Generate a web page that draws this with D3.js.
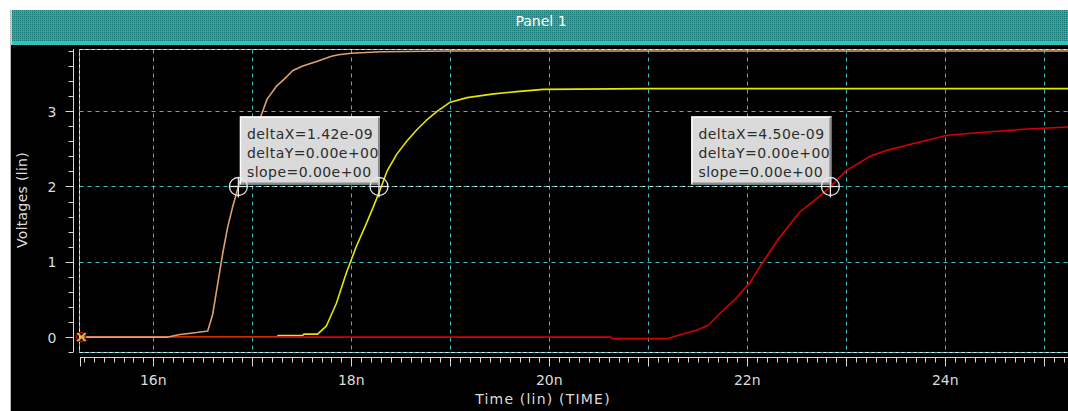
<!DOCTYPE html>
<html><head><meta charset="utf-8">
<script src="https://cdn.jsdelivr.net/npm/d3@7"></script>
<style>
html,body{margin:0;padding:0;background:#fff;overflow:hidden}
svg{display:block}
text{font-family:"DejaVu Sans",sans-serif}
</style></head>
<body>
<svg id="c" width="1068" height="411"></svg>
<script>
// ---- data (time in ns, voltage in V) ----
const orangeTime = [15.26,16.15,16.27,16.44,16.55,16.6,16.65,16.7,16.75,16.8,16.86,16.95,17.03,17.1,17.15,17.25,17.31,17.41,17.51,17.65,17.8,17.87,18.0,18.3,19.0,25.24];
const orangeVolt = [0,0,0.035,0.06,0.08,0.3,0.7,1.1,1.45,1.72,2.0,2.4,2.72,2.98,3.16,3.34,3.41,3.54,3.6,3.66,3.73,3.75,3.77,3.79,3.8,3.8];
const yellowTime = [15.26,17.25,17.26,17.51,17.52,17.66,17.75,17.85,17.95,18.05,18.15,18.22,18.29,18.36,18.46,18.56,18.66,18.76,18.87,19.0,19.17,19.44,19.67,19.94,21.0,25.24];
const yellowVolt = [0,0,0.02,0.02,0.04,0.04,0.15,0.45,0.85,1.2,1.5,1.72,1.95,2.2,2.43,2.6,2.75,2.88,3.0,3.12,3.18,3.23,3.26,3.29,3.3,3.3];
const redTime = [15.26,20.62,20.63,21.2,21.32,21.49,21.61,21.72,21.87,22.03,22.16,22.33,22.53,22.73,22.84,23.0,23.24,23.41,23.68,24.02,24.39,24.79,25.24];
const redVolt = [0,0,-0.02,-0.02,0.03,0.09,0.16,0.31,0.49,0.73,1.0,1.33,1.66,1.87,2.0,2.21,2.40,2.48,2.57,2.68,2.72,2.76,2.79];
const cursorTime = [16.86, 18.28, 22.84];
const cursorLevel = 2.0;
const noteLines1 = ["deltaX=1.42e-09","deltaY=0.00e+00","slope=0.00e+00"];
const noteLines2 = ["deltaX=4.50e-09","deltaY=0.00e+00","slope=0.00e+00"];
const xTickValues = [16,18,20,22,24];
const yTickValues = [0,1,2,3];
const panelTitle = "Panel 1";
const xTitle = "Time (lin) (TIME)";
const yTitle = "Voltages (lin)";

const svg = d3.select("#c");
const W = 1068, H = 411;
const L = 79.5, T = 49.5, B = 352.5;

const x = d3.scaleLinear().domain([15.26, 25.24]).range([80, 1068]);
const y = d3.scaleLinear().domain([-0.198, 3.826]).range([352, 49]);

const defs = svg.append("defs");
const pat = defs.append("pattern").attr("id","hdr").attr("width",2).attr("height",2).attr("patternUnits","userSpaceOnUse");
pat.append("rect").attr("width",2).attr("height",2).attr("fill","#25aaa5");
pat.append("rect").attr("x",0).attr("y",0).attr("width",1).attr("height",1).attr("fill","#147672");
defs.append("clipPath").attr("id","plotclip").append("rect").attr("x",79).attr("y",48).attr("width",1000).attr("height",306);

// black window area
svg.append("rect").attr("x",10).attr("y",10).attr("width",W-10).attr("height",H-10).attr("fill","#000");
svg.append("line").attr("x1",10.5).attr("x2",10.5).attr("y1",10).attr("y2",H).attr("stroke","#b8b8b8");
// header
svg.append("rect").attr("x",11).attr("y",10).attr("width",W-11).attr("height",31).attr("fill","url(#hdr)");
svg.append("rect").attr("x",11).attr("y",41).attr("width",W-11).attr("height",4).attr("fill","#33c2be");
svg.append("line").attr("x1",11).attr("x2",W).attr("y1",10.5).attr("y2",10.5).attr("stroke","#8a9a9a").attr("stroke-dasharray","1,1");
svg.append("line").attr("x1",11.5).attr("x2",11.5).attr("y1",10).attr("y2",45).attr("stroke","#d0d0d0");
svg.append("text").attr("x",541).attr("y",26).attr("text-anchor","middle").attr("fill","#ffffff").attr("font-size",14).text(panelTitle);

const grid = "#3fbfbf";
// vertical grid
const gridX = d3.range(16, 26);
svg.append("g").selectAll("line").data(gridX).join("line")
  .attr("x1",d=>Math.round(x(d))+0.5).attr("x2",d=>Math.round(x(d))+0.5)
  .attr("y1",T).attr("y2",B).attr("stroke",grid).attr("stroke-dasharray","4,4");
// horizontal grid
svg.append("g").selectAll("line").data([1,2,3]).join("line")
  .attr("x1",L).attr("x2",W).attr("y1",d=>Math.round(y(d))+0.5).attr("y2",d=>Math.round(y(d))+0.5)
  .attr("stroke",grid).attr("stroke-dasharray","4,4");
// frame
svg.append("rect").attr("x",L).attr("y",T).attr("width",W).attr("height",B-T).attr("fill","none").attr("stroke",grid);
svg.append("rect").attr("x",L).attr("y",T).attr("width",W).attr("height",B-T).attr("fill","none").attr("stroke","#e8e8e8").attr("stroke-dasharray","3,3");

// axes
const yMinor = d3.range(-0.2, 3.81, 0.2).map(v=>+v.toFixed(1));
const ya = svg.append("g").attr("transform","translate(73.5,0)");
ya.append("line").attr("x1",0).attr("x2",0).attr("y1",49).attr("y2",352).attr("stroke","#d8d8d8");
ya.selectAll(".mn").data(yMinor).join("line").attr("class","mn")
  .attr("x1",0).attr("x2",d=>yTickValues.includes(d)?-8:-5)
  .attr("y1",d=>Math.round(y(d))+0.5).attr("y2",d=>Math.round(y(d))+0.5).attr("stroke","#d8d8d8");
ya.selectAll("text").data(yTickValues).join("text")
  .attr("x",-17).attr("y",d=>y(d)+5.5).attr("text-anchor","end").attr("fill","#dcdcdc").attr("font-size",14)
  .text(d=>d);

const xMinor = d3.range(153, 253).map(v=>v/10);
const xa = svg.append("g").attr("transform","translate(0,357.5)");
xa.append("line").attr("x1",80).attr("x2",W).attr("y1",0).attr("y2",0).attr("stroke","#d8d8d8");
xa.selectAll(".mn").data(xMinor).join("line").attr("class","mn")
  .attr("x1",d=>Math.round(x(d))+0.5).attr("x2",d=>Math.round(x(d))+0.5)
  .attr("y1",0).attr("y2",d=>(Math.abs(d-Math.round(d))<1e-6)?9:5).attr("stroke","#d8d8d8");
xa.append("line").attr("x1",80.5).attr("x2",80.5).attr("y1",0).attr("y2",9).attr("stroke","#d8d8d8");
xa.selectAll("text").data(xTickValues).join("text")
  .attr("x",d=>x(d)).attr("y",27.5).attr("text-anchor","middle").attr("fill","#dcdcdc").attr("font-size",14)
  .text(d=>d+"n");

svg.append("text").attr("x",543).attr("y",404).attr("text-anchor","middle").attr("fill","#dcdcdc")
  .attr("font-size",14).attr("letter-spacing","1.2px").text(xTitle);
svg.append("text").attr("transform","translate(27,200) rotate(-90)").attr("text-anchor","middle").attr("fill","#dcdcdc")
  .attr("font-size",14).attr("letter-spacing","0.3px").text(yTitle);

// curves
const line = d3.line().x(d=>x(d[0])).y(d=>y(d[1]));
const plot = svg.append("g").attr("clip-path","url(#plotclip)");
const series = [
  {t:yellowTime, v:yellowVolt, c:"#e6e600"},
  {t:redTime, v:redVolt, c:"#d40000"},
  {t:orangeTime, v:orangeVolt, c:"#e0a06a"}
];
series.forEach(s=>{
  plot.append("path").attr("d", line(s.t.map((t,i)=>[t,s.v[i]]))).attr("fill","none")
    .attr("stroke",s.c).attr("stroke-width",1.6).attr("stroke-linejoin","round");
});

// delta line (white dotted on the 2V grid)
const yc = Math.round(y(cursorLevel))+0.5;
svg.append("line").attr("x1",x(cursorTime[0])).attr("x2",x(cursorTime[2])).attr("y1",yc).attr("y2",yc)
  .attr("stroke","#f0f0f0").attr("stroke-dasharray","3,5").attr("stroke-dashoffset",4);

// origin marks
const ox = x(15.26)+1, oy = y(0);
svg.append("circle").attr("cx",ox).attr("cy",oy).attr("r",4.5).attr("fill","none").attr("stroke","#d00000").attr("stroke-width",1.5);
[["#e6e600",0],["#e0a06a",1]].forEach(([c,o])=>{
  svg.append("path").attr("d",`M${ox-4+o},${oy-4}L${ox+4+o},${oy+4}M${ox+4+o},${oy-4}L${ox-4+o},${oy+4}`)
    .attr("stroke",c).attr("stroke-width",1.3);
});

// annotation boxes
function note(rightX, bottomY, lines){
  const w = 140, h = 68, x0 = rightX - w, y0 = bottomY - h;
  const g = svg.append("g");
  g.append("rect").attr("x",x0).attr("y",y0).attr("width",w).attr("height",h).attr("fill","#dadada");
  g.append("path").attr("d",`M${x0+0.5},${y0+h}V${y0+0.5}H${x0+w}`).attr("fill","none").attr("stroke","#ffffff").attr("stroke-width",1.5);
  g.append("path").attr("d",`M${x0+w-1},${y0+1}V${y0+h-1}H${x0+1}`).attr("fill","none").attr("stroke","#8c8c8c").attr("stroke-width",2);
  lines.forEach((t,i)=>{
    g.append("text").attr("x",x0+7).attr("y",y0+22+i*19.3).attr("fill","#2c2c2c").attr("font-size",14)
      .attr("letter-spacing","0.45px").text(t);
  });
}
note(x(cursorTime[1])+1, yc-2, noteLines1);
note(x(cursorTime[2])+1, yc-2, noteLines2);

// cursor markers
cursorTime.forEach(t=>{
  const cx = x(t), cy = yc;
  const g = svg.append("g").attr("stroke","#e8e8e8").attr("fill","none").attr("stroke-width",1.3);
  g.append("circle").attr("cx",cx).attr("cy",cy).attr("r",9);
  g.append("line").attr("x1",cx-9).attr("x2",cx+9).attr("y1",cy).attr("y2",cy);
  g.append("line").attr("x1",cx).attr("x2",cx).attr("y1",cy-9).attr("y2",cy+11);
});
</script>
</body></html>
